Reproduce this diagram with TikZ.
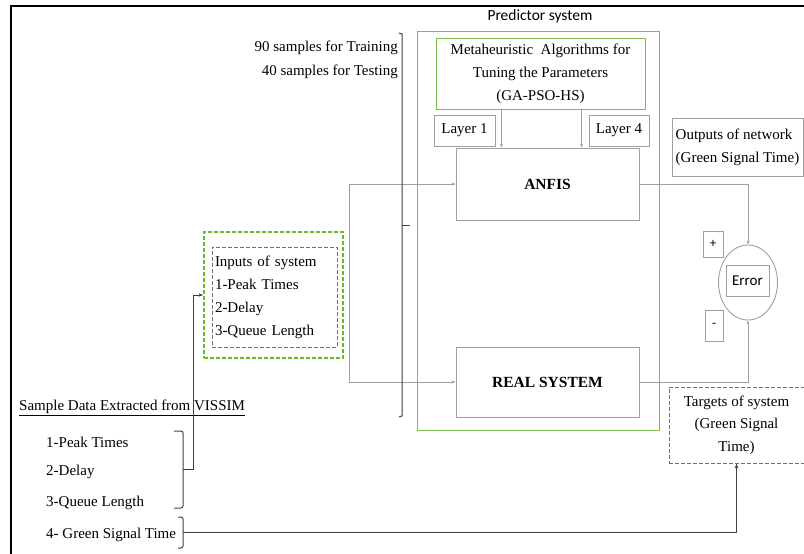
\documentclass[tikz,border=0pt]{standalone}
\usepackage{fontspec}
\setmainfont{Liberation Serif}
\newfontfamily\calib{Carlito}
\usetikzlibrary{arrows.meta,shapes.geometric,positioning,calc}

\definecolor{boxgreen}{RGB}{122,190,76}
\definecolor{dashgreen}{RGB}{102,187,40}
\definecolor{lgray}{RGB}{160,160,160}
\definecolor{dgray}{RGB}{64,64,64}

\begin{document}
\begin{tikzpicture}[x=1pt, y=-1pt,
    txt/.style={font=\fontsize{15}{18}\selectfont, inner sep=0pt},
    blk/.style={draw=lgray, line width=0.9pt, minimum width=#1, align=center, font=\fontsize{15}{18}\selectfont, inner sep=2pt},
    grnbox/.style={draw=boxgreen, line width=1pt},
    dashbox/.style={draw=dgray!75, line width=1pt, dash pattern=on 4pt off 2pt},
    garr/.style={draw=lgray, line width=0.9pt, -{Stealth[length=4pt, width=3pt]}},
    gline/.style={draw=lgray, line width=0.9pt},
    dline/.style={draw=dgray, line width=1pt},
    darr/.style={draw=dgray, line width=1pt, -{Stealth[length=5pt, width=3.5pt]}}
]
\useasboundingbox (0,0) rectangle (804,554);
% outer frame
\draw[line width=2pt] (11,570) -- (11,6) -- (820,6);

% predictor system
\node[grnbox, minimum width=242, minimum height=399] (predictor) at (538,230.5) {};
\node[txt, font=\calib\fontsize{15.5}{18}\selectfont] (predlbl) at (540,16) {Predictor system};
\node[grnbox, minimum width=209, minimum height=71, align=center, font=\fontsize{15}{23}\selectfont, inner sep=0pt] (meta) at (540.5,73.5)
    {Metaheuristic\ \ Algorithms for\\Tuning the Parameters\\(GA-PSO-HS)};
\node[blk=61, minimum height=31] (layer1) at (464.5,130.5) {Layer 1};
\node[blk=60, minimum height=31] (layer4) at (619,130.5) {Layer 4};
\node[blk=183, minimum height=72, font=\bfseries\fontsize{15.5}{18}\selectfont] (anfis) at (547.5,184) {ANFIS};
\node[blk=183, minimum height=70, font=\bfseries\fontsize{15.5}{18}\selectfont] (real) at (547.5,382) {REAL SYSTEM};

% parameter tuning arrows
\draw[garr] ([xshift=6]layer1.east |- meta.south) -- ([xshift=6]layer1.east |- anfis.north);
\draw[garr] ([xshift=-7]layer4.west |- meta.south) -- ([xshift=-7]layer4.west |- anfis.north);

% outputs and error
\node[blk=131, minimum height=58, align=left, font=\fontsize{15}{23}\selectfont] (outputs) at (737.5,147) {Outputs of network\\(Green Signal Time)};
\node[ellipse, draw=lgray, line width=0.9pt, minimum width=59, minimum height=75] (errorcirc) at (748,282.5) {};
\node[blk=43, minimum height=31, font=\calib\fontsize{15}{18}\selectfont] (errorbox) at (747.5,280.5) {Error};
\node[blk=20, minimum height=26, font=\calib\fontsize{13}{17}\selectfont] (plus) at (713,244) {+};
\node[blk=18, minimum height=31, font=\calib\fontsize{13}{17}\selectfont] (minus) at (714,325.5) {-};
\node[blk=135, minimum height=76, dashbox, font=\fontsize{15}{22.5}\selectfont] (targets) at (736.5,425)
    {Targets of system\\(Green Signal\\Time)};

\draw[garr] (anfis.east) -| (errorcirc.north);
\draw[garr] (real.east) -| (errorcirc.south);

% inputs of the system
\node[draw=dashgreen, dash pattern=on 4pt off 2pt, line width=1.3pt, minimum width=139, minimum height=126] (inputsout) at (273.5,295) {};
\node[dashbox, minimum width=125, minimum height=100, align=left,
    font=\fontsize{15}{23}\selectfont, inner sep=0pt, text width=119] (inputsin) at (274.5,297)
    {Inputs of system\\1-Peak Times\\2-Delay\\3-Queue Length};

% feed to both models
\coordinate (feed) at (349,0);
\draw[gline] (feed |- anfis.west) -- (feed |- real.west);
\draw[garr] (feed |- anfis.west) -- (anfis.west);
\draw[garr] (feed |- real.west) -- (real.west);

% training and testing split
\node[txt, anchor=east, align=right, font=\fontsize{15}{24}\selectfont] (split) at (398,60)
    {90 samples for Training\\40 samples for Testing};
\draw[dline] (399,33) -- (402,34) -- (402,416) -- (399,417);
\draw[dline] (402,225) -- (410,225);

% sample data from VISSIM
\node[txt, anchor=west] (vissim) at (19,408) {\underline{Sample Data Extracted from VISSIM}};
\node[txt, anchor=west] (peak) at (46,442) {1-Peak Times};
\node[txt, anchor=west] (delay) at (46,472) {2-Delay};
\node[txt, anchor=west] (queue) at (46,503) {3-Queue Length};
\node[txt, anchor=west] (green) at (46,535) {4- Green Signal Time};

\coordinate (brace1) at (183,469);
\coordinate (brace2) at (183,532);
\draw[dline, rounded corners=2pt] (174,431) -| (brace1) |- (174,508);
\draw[dline, rounded corners=2pt] (178,517) -| (brace2) |- (178,548);
\draw[darr] (brace1) -- (193,469) |- (inputsout.west);
\draw[darr] (brace2) -| (targets.south);
\end{tikzpicture}
\end{document}
